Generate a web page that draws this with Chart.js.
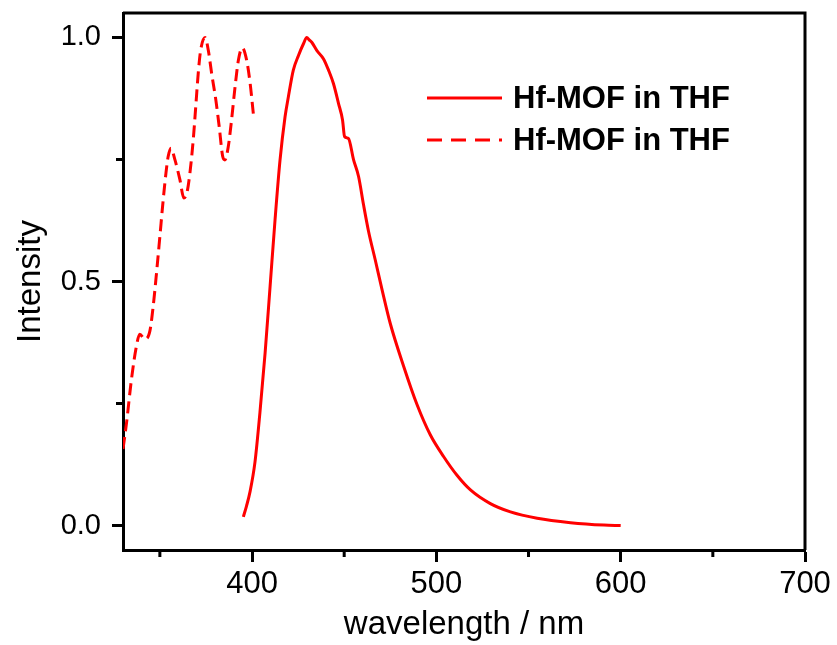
<!DOCTYPE html>
<html>
<head>
<meta charset="utf-8">
<script src="https://cdn.jsdelivr.net/npm/chart.js@4"></script>
<style>
  html, body { margin: 0; padding: 0; background: #fff; }
  #wrap { width: 837px; height: 645px; }
</style>
</head>
<body>
<div id="wrap"><canvas id="chart" width="837" height="645"></canvas></div>
<script>
// emission (solid)
const emissionX = [395.3, 397, 398.9, 401.6, 404.3, 407.1, 409.8, 412.5, 415.2, 417.9, 419.7, 422.4, 425.2, 427.9, 429.7, 431, 432.4, 435.2, 438.8, 441.5, 444.2, 446.9, 449.1, 450.2, 452.3, 455.1, 457.8, 460.5, 463.2, 466.8, 470.5, 475, 482.2, 489.5, 496.7, 504, 511.2, 518.5, 529.3, 540.2, 554.7, 572.8, 590.9, 600];
const emissionY = [0.018, 0.04, 0.069, 0.13, 0.232, 0.354, 0.49, 0.627, 0.749, 0.837, 0.878, 0.933, 0.963, 0.987, 1.0, 0.995, 0.99, 0.973, 0.956, 0.933, 0.905, 0.865, 0.831, 0.797, 0.793, 0.749, 0.715, 0.657, 0.603, 0.545, 0.484, 0.414, 0.327, 0.248, 0.186, 0.141, 0.103, 0.073, 0.045, 0.028, 0.015, 0.006, 0.001, 0.0];

// excitation (dashed)
const excitationX = [330, 331.9, 334.6, 337.3, 339.1, 341.8, 344.6, 346.4, 348.2, 350, 351.8, 353.3, 354.5, 356, 358.2, 360.9, 363, 364.8, 366.3, 368.1, 369.6, 370.8, 372.1, 374.5, 376.3, 378.1, 380.4, 382.2, 384.1, 385.3, 387.1, 388.9, 390.8, 392.6, 394.7, 397.1, 399, 400.7];
const excitationY = [0.157, 0.21, 0.30, 0.368, 0.392, 0.382, 0.399, 0.45, 0.518, 0.592, 0.667, 0.722, 0.756, 0.773, 0.749, 0.708, 0.671, 0.684, 0.722, 0.79, 0.865, 0.926, 0.973, 1.0, 0.973, 0.926, 0.871, 0.817, 0.756, 0.749, 0.776, 0.831, 0.899, 0.953, 0.979, 0.953, 0.905, 0.844];

const seriesLabels = ['Hf-MOF in THF', 'Hf-MOF in THF'];
const xMajor = [400, 500, 600, 700];
const xMinor = [350, 450, 550, 650];
const yMajor = [0, 0.5, 1.0];
const yMinor = [0.25, 0.75];

const FONT = '"Liberation Sans", Arial, sans-serif';
const RED = '#ff0000';

const toPts = (xs, ys) => xs.map((x, i) => ({ x: x, y: ys[i] }));

// frame on top/right, minor ticks, legend inside the plot
const extras = {
  id: 'extras',
  afterDraw(chart) {
    const ctx = chart.ctx;
    const a = chart.chartArea;
    const xs = chart.scales.x, ys = chart.scales.y;
    ctx.save();
    ctx.strokeStyle = '#000';
    ctx.lineWidth = 3;
    ctx.beginPath();
    ctx.moveTo(a.left, a.top);
    ctx.lineTo(a.right, a.top);
    ctx.lineTo(a.right, a.bottom);
    ctx.stroke();

    ctx.beginPath();
    xMinor.forEach(v => {
      const px = xs.getPixelForValue(v);
      ctx.moveTo(px, a.bottom);
      ctx.lineTo(px, a.bottom + 7);
    });
    yMinor.forEach(v => {
      const py = ys.getPixelForValue(v);
      ctx.moveTo(a.left, py);
      ctx.lineTo(a.left - 7, py);
    });
    ctx.stroke();

    // legend
    const lx = 427, lw = 75, tx = 513;
    const rows = [98, 140];
    chart.data.datasets.forEach((ds, i) => {
      const y = rows[i];
      ctx.strokeStyle = ds.borderColor;
      ctx.lineWidth = 3;
      ctx.setLineDash(i === 1 ? [15, 9] : []);
      ctx.beginPath();
      ctx.moveTo(lx, y);
      ctx.lineTo(lx + lw, y);
      ctx.stroke();
      ctx.setLineDash([]);
      ctx.fillStyle = '#000';
      ctx.font = 'bold 31px ' + FONT;
      ctx.textAlign = 'left';
      ctx.textBaseline = 'middle';
      ctx.fillText(ds.label, tx, y + 1);
    });
    ctx.restore();
  }
};

new Chart(document.getElementById('chart'), {
  type: 'line',
  data: {
    datasets: [
      {
        label: seriesLabels[0],
        data: toPts(emissionX, emissionY),
        borderColor: RED,
        borderWidth: 3,
        pointRadius: 0,
        cubicInterpolationMode: 'monotone',
        fill: false
      },
      {
        label: seriesLabels[1],
        data: toPts(excitationX, excitationY),
        borderColor: RED,
        borderWidth: 3,
        borderDash: [12, 6],
        pointRadius: 0,
        cubicInterpolationMode: 'monotone',
        fill: false
      }
    ]
  },
  options: {
    responsive: false,
    animation: false,
    layout: { padding: { top: 13, right: 32, left: 0, bottom: 0 } },
    plugins: {
      legend: { display: false },
      tooltip: { enabled: false }
    },
    scales: {
      x: {
        type: 'linear',
        min: 330,
        max: 700,
        afterBuildTicks: s => { s.ticks = xMajor.map(v => ({ value: v })); },
        afterFit: s => { s.height = 95; s.paddingLeft = 0; s.paddingRight = 0; },
        border: { display: true, color: '#000', width: 3 },
        grid: { drawOnChartArea: false, drawTicks: true, tickLength: 12, tickWidth: 3, tickColor: '#000' },
        ticks: { color: '#000', font: { family: FONT, size: 31 }, padding: 4, maxRotation: 0 },
        title: { display: true, text: 'wavelength / nm', color: '#000', font: { family: FONT, size: 33 }, padding: { top: 0, bottom: 0 } }
      },
      y: {
        type: 'linear',
        min: -0.05,
        max: 1.05,
        afterBuildTicks: s => { s.ticks = yMajor.map(v => ({ value: v })); },
        afterFit: s => { s.width = 123; s.paddingTop = 0; s.paddingBottom = 0; },
        border: { display: true, color: '#000', width: 3 },
        grid: { drawOnChartArea: false, drawTicks: true, tickLength: 11, tickWidth: 3, tickColor: '#000' },
        ticks: { color: '#000', font: { family: FONT, size: 29 }, padding: 11, callback: v => v.toFixed(1) },
        title: { display: true, text: 'Intensity', color: '#000', font: { family: FONT, size: 33 }, padding: { top: 11, bottom: 0 } }
      }
    }
  },
  plugins: [extras]
});
</script>
</body>
</html>
